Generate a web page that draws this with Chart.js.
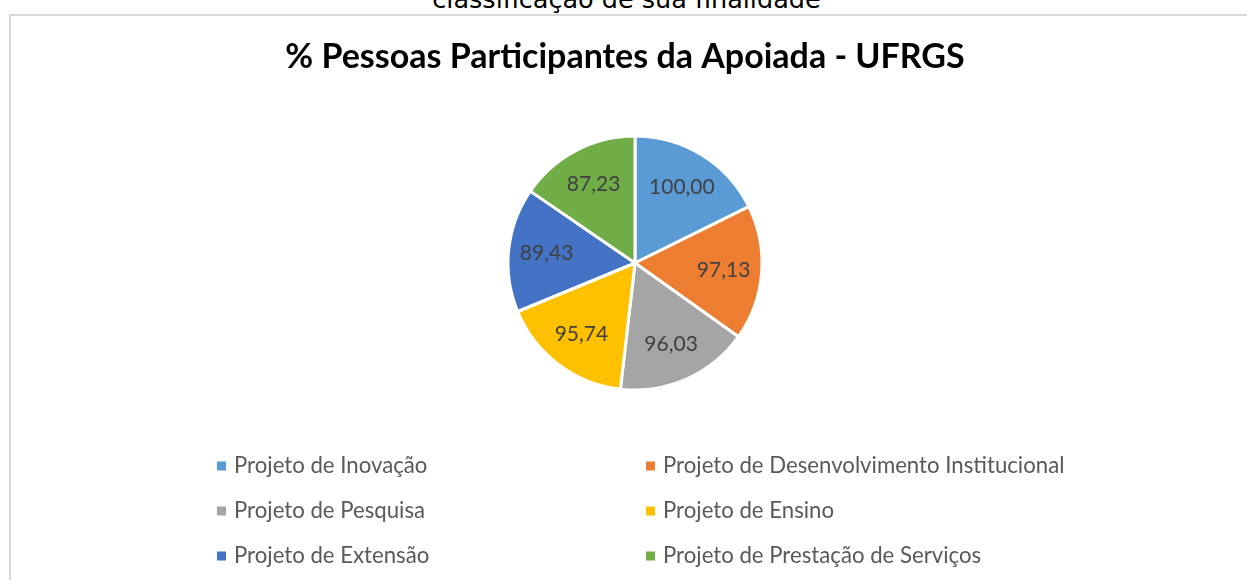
<!DOCTYPE html>
<html>
<head>
<meta charset="utf-8">
<script src="https://cdn.jsdelivr.net/npm/chart.js@4"></script>
<style>
  html, body { margin: 0; padding: 0; background: #fff; overflow: hidden; }
  #wrap { position: relative; width: 1247px; height: 580px; overflow: hidden; }
  #moldura { position: absolute; left: 9px; top: 14px; width: 1300px; height: 700px; border: 2px solid #d9d9d9; box-sizing: border-box; }
  #topo { position: absolute; left: 0; width: 1253px; top: -13px; line-height: 25px; text-align: center;
          font-family: "DejaVu Sans", sans-serif; font-size: 25.5px; color: #000; }
  #grafico { position: absolute; left: 0; top: 0; }
</style>
</head>
<body>
<div id="wrap">
  <div id="topo">classificação de sua finalidade</div>
  <div id="moldura"></div>
  <canvas id="grafico" width="1247" height="580"></canvas>
</div>
<script>
const titulo = '% Pessoas Participantes da Apoiada - UFRGS';
const categorias = ['Projeto de Inovação', 'Projeto de Desenvolvimento Institucional', 'Projeto de Pesquisa',
  'Projeto de Ensino', 'Projeto de Extensão', 'Projeto de Prestação de Serviços'];
const valores = [100.00, 97.13, 96.03, 95.74, 89.43, 87.23];
const cores = ['#5B9BD5', '#ED7D31', '#A5A5A5', '#FFC000', '#4472C4', '#70AD47'];

const fonte = 'Lato, "Open Sans", sans-serif';

// rótulos de valor dentro das fatias
const rotulos = {
  id: 'rotulos',
  afterDatasetsDraw(chart) {
    const c = chart.ctx;
    const meta = chart.getDatasetMeta(0);
    c.save();
    c.font = '21px ' + fonte;
    c.fillStyle = '#404040';
    c.textAlign = 'center';
    c.textBaseline = 'middle';
    meta.data.forEach((arc, i) => {
      const p = arc.getProps(['x', 'y', 'startAngle', 'endAngle', 'outerRadius'], true);
      const meio = (p.startAngle + p.endAngle) / 2;
      const r = p.outerRadius * 0.7;
      const txt = chart.data.datasets[0].data[i].toFixed(2).replace('.', ',');
      c.fillText(txt, p.x + Math.cos(meio) * r, p.y + Math.sin(meio) * r);
    });
    c.restore();
  }
};

// título e legenda em duas colunas, como no Excel
const moldura = {
  id: 'moldura',
  afterDraw(chart) {
    const c = chart.ctx;
    c.save();
    c.font = 'bold 34px ' + fonte;
    c.fillStyle = '#000';
    c.textAlign = 'center';
    c.textBaseline = 'alphabetic';
    c.fillText(titulo, 625, 68);

    const colX = [217, 646];
    const linhaY = [466, 511, 556];
    c.font = '22.2px ' + fonte;
    c.textAlign = 'left';
    c.textBaseline = 'middle';
    chart.data.labels.forEach((lab, i) => {
      const x = colX[i % 2];
      const y = linhaY[Math.floor(i / 2)];
      c.fillStyle = chart.data.datasets[0].backgroundColor[i];
      c.fillRect(x, y - 4.5, 9, 9);
      c.fillStyle = '#595959';
      c.fillText(lab, x + 17, y);
    });
    c.restore();
  }
};

const ctx = document.getElementById('grafico').getContext('2d');

let grafico = new Chart(ctx, {
  type: 'pie',
  data: {
    labels: categorias,
    datasets: [{
      data: valores,
      backgroundColor: cores,
      borderColor: '#ffffff',
      borderWidth: 3,
      radius: 127
    }]
  },
  options: {
    responsive: false,
    animation: false,
    layout: { padding: { left: 23, right: 0, top: 100, bottom: 154 } },
    plugins: {
      legend: { display: false },
      title: { display: false },
      tooltip: { enabled: false }
    }
  },
  plugins: [rotulos, moldura]
});
</script>
</body>
</html>
